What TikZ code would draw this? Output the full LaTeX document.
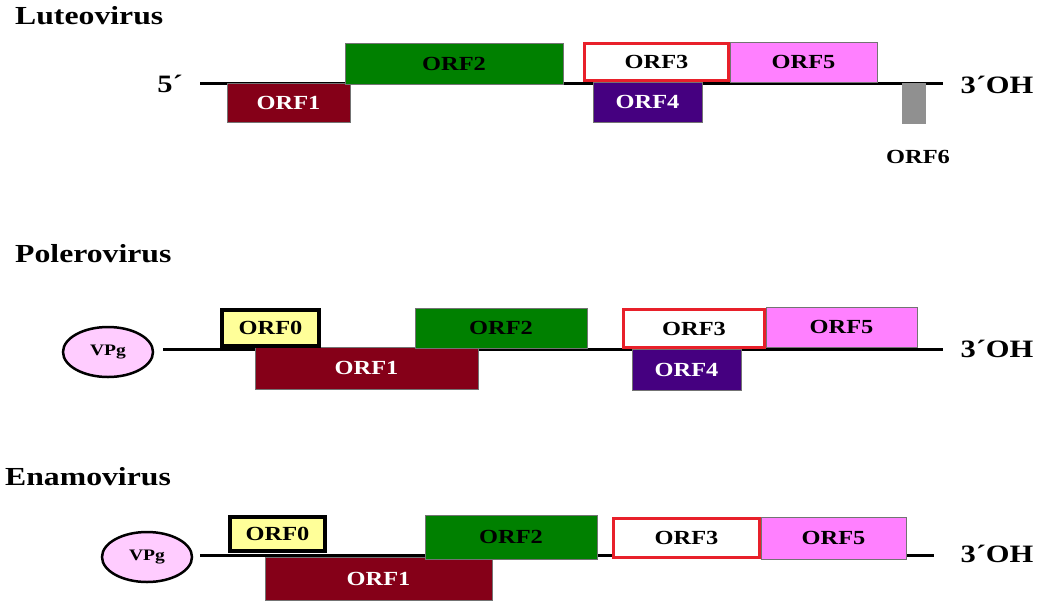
\documentclass[tikz,border=0pt]{standalone}
\usepackage{fontspec}
\setmainfont{Liberation Serif}[FakeStretch=1.22]
\usetikzlibrary{shapes.geometric}
\definecolor{orfred}{HTML}{850018}
\definecolor{orfgreen}{HTML}{008000}
\definecolor{orfpink}{HTML}{FF80FF}
\definecolor{orfpurple}{HTML}{450080}
\definecolor{orfgray}{HTML}{909090}
\definecolor{orfyellow}{HTML}{FFFF99}
\definecolor{orfborder}{HTML}{E8202A}
\definecolor{vpgpink}{HTML}{FFCCFF}
\begin{document}
\begin{tikzpicture}[x=1pt,y=-1pt,
  orf/.style={rectangle, draw=black!55, line width=0.6pt, inner sep=0pt,
    font=\fontsize{20}{20}\selectfont\bfseries},
  darkorf/.style={orf, fill=orfred, text=white},
  greenorf/.style={orf, fill=orfgreen, text=black},
  pinkorf/.style={orf, fill=orfpink, text=black},
  purpleorf/.style={orf, fill=orfpurple, text=white},
  redframe/.style={orf, fill=white, draw=orfborder, line width=3pt, text=black},
  yellowframe/.style={orf, fill=orfyellow, draw=black, line width=4pt, text=black},
  grayorf/.style={rectangle, fill=orfgray, draw=none, inner sep=0pt},
  genome/.style={line width=3pt, black},
  title/.style={anchor=base west, inner sep=0pt, font=\fontsize{26}{26}\selectfont\bfseries},
  endlabel/.style={inner sep=0pt, font=\fontsize{25}{25}\selectfont\bfseries},
  vpg/.style={ellipse, fill=vpgpink, draw=black, line width=2.5pt, inner sep=0pt,
    minimum width=90pt, minimum height=50pt, font=\fontsize{16}{16}\selectfont\bfseries},
  smalllabel/.style={inner sep=0pt, font=\fontsize{20}{20}\selectfont\bfseries}
]
\useasboundingbox (0,0) rectangle (1051,600);

% ---------- Luteovirus ----------
\node[title] (t1) at (15,24) {Luteovirus};
\coordinate (lu5end) at (200,83);
\coordinate (lu3end) at (943,83);
\draw[genome] (lu5end) -- (lu3end);
\node[endlabel] (lu5) at (170,84) {5´};
\node[endlabel] (lu3) at (997,85) {3´OH};
\node[darkorf, minimum width=123pt, minimum height=39pt] (lu1) at (288.5,102.5) {ORF1};
\node[greenorf, minimum width=218pt, minimum height=41pt] (lu2) at (454,63.5) {ORF2};
\node[pinkorf, minimum width=147pt, minimum height=40pt] (lu5b) at (803.5,62) {ORF5};
\node[redframe, minimum width=144pt, minimum height=37pt] (lu3b) at (656.5,62) {ORF3};
\node[purpleorf, minimum width=109pt, minimum height=40pt] (lu4) at (647.5,102) {ORF4};
\node[grayorf, minimum width=24pt, minimum height=41pt] (lu6) at (914,103.5) {};
\node[smalllabel] (lu6l) at (918,157) {ORF6};

% ---------- Polerovirus ----------
\node[title] (t2) at (15,262) {Polerovirus};
\node[vpg] (pvpg) at (108,352) {VPg};
\coordinate (po5end) at (163,349);
\coordinate (po3end) at (943,349);
\draw[genome] (po5end) -- (po3end);
\node[endlabel] (po3) at (997,349) {3´OH};
\node[darkorf, minimum width=223pt, minimum height=42pt] (po1) at (366.5,368) {ORF1};
\node[yellowframe, minimum width=97pt, minimum height=36pt] (po0) at (270.5,328) {ORF0};
\node[greenorf, minimum width=172pt, minimum height=40pt] (po2) at (501,328) {ORF2};
\node[pinkorf, minimum width=151pt, minimum height=40pt] (po5b) at (841.5,327) {ORF5};
\node[redframe, minimum width=141pt, minimum height=38pt] (po3b) at (694,328.5) {ORF3};
\node[purpleorf, minimum width=109pt, minimum height=41pt] (po4) at (686.5,369.5) {ORF4};

% ---------- Enamovirus ----------
\node[title] (t3) at (5,485) {Enamovirus};
\node[vpg] (evpg) at (147,557) {VPg};
\coordinate (en5end) at (200,555);
\coordinate (en3end) at (934,555);
\draw[genome] (en5end) -- (en3end);
\node[endlabel] (en3) at (997,554) {3´OH};
\node[darkorf, minimum width=227pt, minimum height=43pt] (en1) at (378.5,578.5) {ORF1};
\node[yellowframe, minimum width=95pt, minimum height=34pt] (en0) at (277.5,534) {ORF0};
\node[greenorf, minimum width=172pt, minimum height=44pt] (en2) at (511,537) {ORF2};
\node[pinkorf, minimum width=145pt, minimum height=42pt] (en5b) at (833.5,538) {ORF5};
\node[redframe, minimum width=146pt, minimum height=39pt] (en3b) at (686.5,538) {ORF3};
\end{tikzpicture}
\end{document}
